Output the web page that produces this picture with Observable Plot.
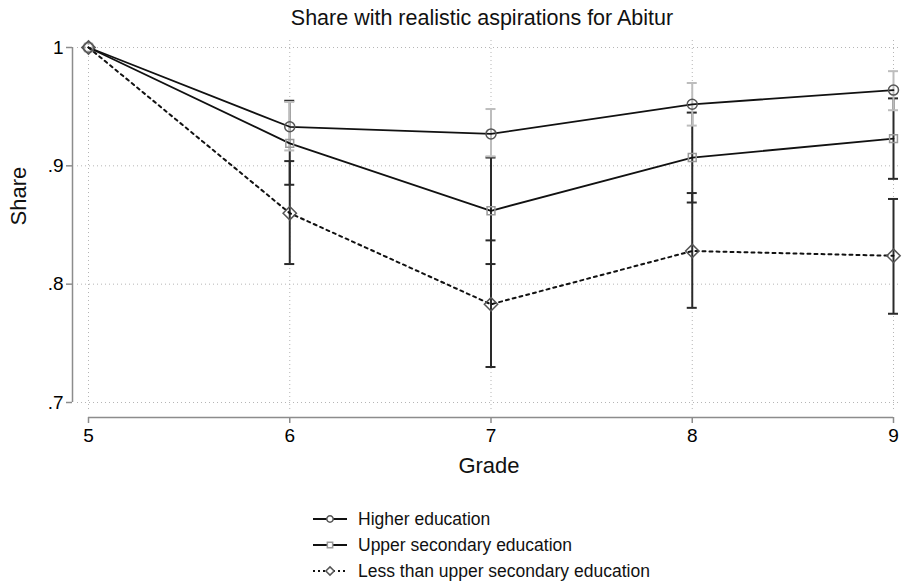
<!DOCTYPE html>
<html>
<head>
<meta charset="utf-8">
<script src="https://cdn.jsdelivr.net/npm/d3@7"></script>
<script src="https://cdn.jsdelivr.net/npm/@observablehq/plot@0.6"></script>
<style>
  body { margin: 0; background: #fff; font-family: "Liberation Sans", Arial, sans-serif; }
  #title { height: 36px; line-height: 36px; font-size: 21.5px; color: #111; text-align: center; padding-left: 62px; width: 840px; }
  #chart svg { display: block; }
  #legend { padding-top: 20px; }
</style>
</head>
<body>
<div id="title">Share with realistic aspirations for Abitur</div>
<div id="chart"></div>
<div id="legend"></div>
<script>
const grades = [5, 6, 7, 8, 9];
const yTicks = [0.7, 0.8, 0.9, 1];
const seriesNames = ["Higher education", "Upper secondary education", "Less than upper secondary education"];

const higherShare = [1, 0.933, 0.927, 0.952, 0.964];
const higherLo    = [null, 0.913, 0.908, 0.934, 0.947];
const higherHi    = [null, 0.954, 0.948, 0.970, 0.980];

const upperShare  = [1, 0.919, 0.862, 0.907, 0.923];
const upperLo     = [null, 0.884, 0.817, 0.869, 0.889];
const upperHi     = [null, 0.955, 0.907, 0.945, 0.957];

const lessShare   = [1, 0.860, 0.783, 0.828, 0.824];
const lessLo      = [null, 0.817, 0.730, 0.780, 0.775];
const lessHi      = [null, 0.904, 0.837, 0.877, 0.872];

function rows(share, lo, hi, name) {
  return grades.map((g, i) => ({grade: g, share: share[i], lo: lo[i], hi: hi[i], series: name}));
}
const higher = rows(higherShare, higherLo, higherHi, seriesNames[0]);
const upper = rows(upperShare, upperLo, upperHi, seriesNames[1]);
const less = rows(lessShare, lessLo, lessHi, seriesNames[2]);

function ci(data, color, width) {
  const d = data.filter(r => r.lo != null);
  return [
    Plot.ruleX(d, {x: "grade", y1: "lo", y2: "hi", stroke: color, strokeWidth: width}),
    Plot.ruleY(d, {y: "lo", x1: "grade", x2: "grade", insetLeft: -5, insetRight: -5, stroke: color, strokeWidth: width}),
    Plot.ruleY(d, {y: "hi", x1: "grade", x2: "grade", insetLeft: -5, insetRight: -5, stroke: color, strokeWidth: width})
  ];
}

const fmt = d => (Math.abs(d - 1) < 1e-9 ? "1" : d3.format(".1f")(d).replace(/^0/, ""));
const gMin = d3.min(grades), gMax = d3.max(grades);

const chart = Plot.plot({
  width: 902,
  height: 450,
  marginLeft: 77,
  marginRight: 2,
  marginTop: 4,
  marginBottom: 76,
  style: {fontFamily: "Liberation Sans, Arial, sans-serif", fontSize: "19px", background: "#fff", overflow: "visible"},
  x: {domain: [gMin, gMax], range: [88, 893]},
  y: {domain: [0.7, 1], range: [366, 11]},
  marks: [
    Plot.gridY(yTicks, {stroke: "#b5b5b5", strokeOpacity: 1, strokeDasharray: "1,3"}),
    Plot.gridX(grades, {stroke: "#b5b5b5", strokeOpacity: 1, strokeDasharray: "1,3"}),
    // axis lines
    Plot.ruleX([gMin], {x: d => d, y1: 0.7, y2: 1, dx: -16, stroke: "#8c8c8c", strokeWidth: 1.5}),
    Plot.ruleY([0.7], {y: d => d, x1: gMin, x2: gMax, dy: 15, stroke: "#8c8c8c", strokeWidth: 1.5}),
    Plot.axisY({ticks: yTicks, tickFormat: fmt, tickSize: 6, tickPadding: 3, dx: -5, label: null, stroke: "#8c8c8c", strokeWidth: 1.5, fontSize: 19}),
    Plot.axisX({ticks: grades, tickFormat: d => String(d), tickSize: 6, tickPadding: 5, dy: 7, label: null, stroke: "#8c8c8c", strokeWidth: 1.5, fontSize: 19}),
    Plot.text(["Share"], {frameAnchor: "left", rotate: -90, dx: -59, fontSize: 22, fill: "#111"}),
    Plot.text(["Grade"], {frameAnchor: "bottom", dy: 62, fontSize: 22, fill: "#111"}),
    // confidence intervals
    ...ci(upper, "#2a2a2a", 2),
    ...ci(less, "#2a2a2a", 2),
    ...ci(higher, "#bdbdbd", 2),
    // lines
    Plot.line(higher, {x: "grade", y: "share", stroke: "#111", strokeWidth: 1.8}),
    Plot.line(upper, {x: "grade", y: "share", stroke: "#111", strokeWidth: 1.8}),
    Plot.line(less, {x: "grade", y: "share", stroke: "#111", strokeWidth: 2, strokeDasharray: "3,4"}),
    // markers
    Plot.dot(higher, {x: "grade", y: "share", symbol: "circle", r: 5, stroke: "#555", strokeWidth: 1.5, fill: "none"}),
    Plot.dot(upper, {x: "grade", y: "share", symbol: "square2", r: 5, stroke: "#999", strokeWidth: 1.5, fill: "none"}),
    Plot.dot(less, {x: "grade", y: "share", symbol: "diamond2", r: 6, stroke: "#555", strokeWidth: 1.5, fill: "none"})
  ]
});
document.getElementById("chart").appendChild(chart);

// legend
const legendItems = [
  {name: seriesNames[0], symbol: d3.symbolCircle, size: 32, color: "#555", dash: null},
  {name: seriesNames[1], symbol: d3.symbolSquare2, size: 36, color: "#999", dash: null},
  {name: seriesNames[2], symbol: d3.symbolDiamond2, size: 44, color: "#555", dash: "2,3"}
];
const svg = d3.select("#legend").append("svg").attr("width", 902).attr("height", 80)
  .style("font-family", "Liberation Sans, Arial, sans-serif").style("display", "block");
legendItems.forEach((it, i) => {
  const cy = 13 + i * 26;
  const g = svg.append("g").attr("transform", `translate(0,${cy})`);
  g.append("line").attr("x1", 313).attr("x2", 347).attr("y1", 0).attr("y2", 0)
    .attr("stroke", "#111").attr("stroke-width", 2).attr("stroke-dasharray", it.dash);
  g.append("path").attr("d", d3.symbol(it.symbol, it.size)()).attr("transform", "translate(330,0)")
    .attr("fill", "#fff").attr("stroke", it.color).attr("stroke-width", 1.5);
  g.append("text").attr("x", 358).attr("y", 0).attr("dy", "0.35em").attr("font-size", 17.5).attr("fill", "#111").text(it.name);
});
</script>
</body>
</html>
